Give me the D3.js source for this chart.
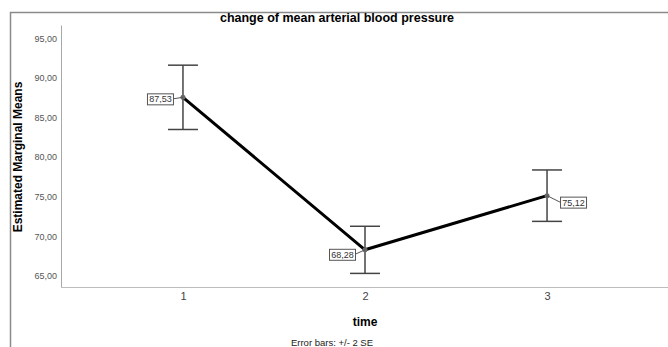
<!DOCTYPE html>
<meta charset="utf-8">
<script src="https://d3js.org/d3.v7.min.js"></script>
<style>
  body { margin: 0; background: #fff; }
  text { font-family: "Liberation Sans", Arial, sans-serif; }
</style>
<div id="my_dataviz"></div>
<script>

// data
var times = ["1", "2", "3"];
var means = [87.53, 68.28, 75.12];
var lower = [83.47, 65.30, 71.87];
var upper = [91.59, 71.25, 78.36];
var meanLabels = ["87,53", "68,28", "75,12"];
var yTicks = [65, 70, 75, 80, 85, 90, 95];

var W = 668, H = 347;

var svg = d3.select("#my_dataviz")
  .append("svg")
    .attr("width", W)
    .attr("height", H);

// outer frame (top and left edges only are visible)
svg.append("path")
  .attr("d", "M10.5," + H + "V12.5H" + W)
  .attr("fill", "none")
  .attr("stroke", "#8a8a8a")
  .attr("stroke-width", 1.5);

// scales
var x = d3.scalePoint()
  .domain(times)
  .range([61, 669])
  .padding(0.67);

var y = d3.scaleLinear()
  .domain([63.52, 96.6])
  .range([287.5, 25.5]);

// axis lines
svg.append("line")
  .attr("x1", 61.5).attr("x2", 61.5)
  .attr("y1", y(96.6)).attr("y2", y(63.52))
  .attr("stroke", "#a8a8a8");
svg.append("line")
  .attr("x1", 61).attr("x2", W)
  .attr("y1", 287.5).attr("y2", 287.5)
  .attr("stroke", "#bdbdbd")
  .attr("stroke-width", 1.2);

// Y axis tick labels
svg.append("g")
  .attr("transform", "translate(61,0)")
  .call(d3.axisLeft(y).tickValues(yTicks).tickSize(0).tickPadding(4)
    .tickFormat(function(d) { return d3.format(".2f")(d).replace(".", ","); }))
  .call(function(g) { g.select(".domain").remove(); })
  .selectAll("text")
    .attr("font-size", 9)
    .attr("font-family", "Liberation Sans, Arial, sans-serif")
    .attr("fill", "#555");

// X axis tick labels
svg.append("g")
  .attr("transform", "translate(0,287)")
  .call(d3.axisBottom(x).tickSize(0).tickPadding(5))
  .call(function(g) { g.select(".domain").remove(); })
  .selectAll("text")
    .attr("font-size", 11)
    .attr("font-family", "Liberation Sans, Arial, sans-serif")
    .attr("fill", "#444");

// titles
svg.append("text")
  .attr("x", 337).attr("y", 21.5)
  .attr("text-anchor", "middle")
  .attr("font-size", 12.5).attr("font-weight", "bold")
  .text("change of mean arterial blood pressure");

svg.append("text")
  .attr("transform", "translate(22,157) rotate(-90)")
  .attr("text-anchor", "middle")
  .attr("font-size", 12).attr("font-weight", "bold")
  .text("Estimated Marginal Means");

svg.append("text")
  .attr("x", 365).attr("y", 326)
  .attr("text-anchor", "middle")
  .attr("font-size", 12).attr("font-weight", "bold")
  .text("time");

svg.append("text")
  .attr("x", 332).attr("y", 346)
  .attr("text-anchor", "middle")
  .attr("font-size", 9.5)
  .attr("fill", "#222")
  .text("Error bars: +/- 2 SE");

var data = times.map(function(t, i) {
  return { t: t, m: means[i], lo: lower[i], hi: upper[i], lab: meanLabels[i] };
});

// error bars
var eb = svg.append("g")
  .attr("stroke", "#444")
  .attr("stroke-width", 1.5);
data.forEach(function(d) {
  var cx = x(d.t);
  eb.append("line").attr("x1", cx).attr("x2", cx).attr("y1", y(d.hi)).attr("y2", y(d.lo));
  eb.append("line").attr("x1", cx - 15).attr("x2", cx + 15).attr("y1", y(d.hi)).attr("y2", y(d.hi));
  eb.append("line").attr("x1", cx - 15).attr("x2", cx + 15).attr("y1", y(d.lo)).attr("y2", y(d.lo));
});

// mean line
svg.append("path")
  .datum(data)
  .attr("fill", "none")
  .attr("stroke", "#000")
  .attr("stroke-width", 3)
  .attr("d", d3.line()
    .x(function(d) { return x(d.t); })
    .y(function(d) { return y(d.m); }));

// points
svg.append("g")
  .selectAll("circle")
  .data(data)
  .enter()
  .append("circle")
    .attr("cx", function(d) { return x(d.t); })
    .attr("cy", function(d) { return y(d.m); })
    .attr("r", 2.5)
    .attr("fill", "#666");

// value labels (box offsets relative to the point)
var boxOff = [[-36, -4], [-36, -1], [13, 1]];
var bw = 26, bh = 11;
data.forEach(function(d, i) {
  var px = x(d.t), py = y(d.m);
  var bx = px + boxOff[i][0], by = py + boxOff[i][1];
  var left = boxOff[i][0] > 0;
  svg.append("line")
    .attr("x1", px).attr("y1", py)
    .attr("x2", left ? bx : bx + bw).attr("y2", by + bh / 2)
    .attr("stroke", "#555").attr("stroke-width", 1);
  svg.append("rect")
    .attr("x", bx + 0.5).attr("y", by + 0.5)
    .attr("width", bw).attr("height", bh)
    .attr("fill", "#fff")
    .attr("stroke", "#555").attr("stroke-width", 1);
  svg.append("text")
    .attr("x", bx + bw / 2 + 0.5).attr("y", by + 9)
    .attr("text-anchor", "middle")
    .attr("font-size", 9)
    .attr("fill", "#333")
    .text(d.lab);
});

</script>
